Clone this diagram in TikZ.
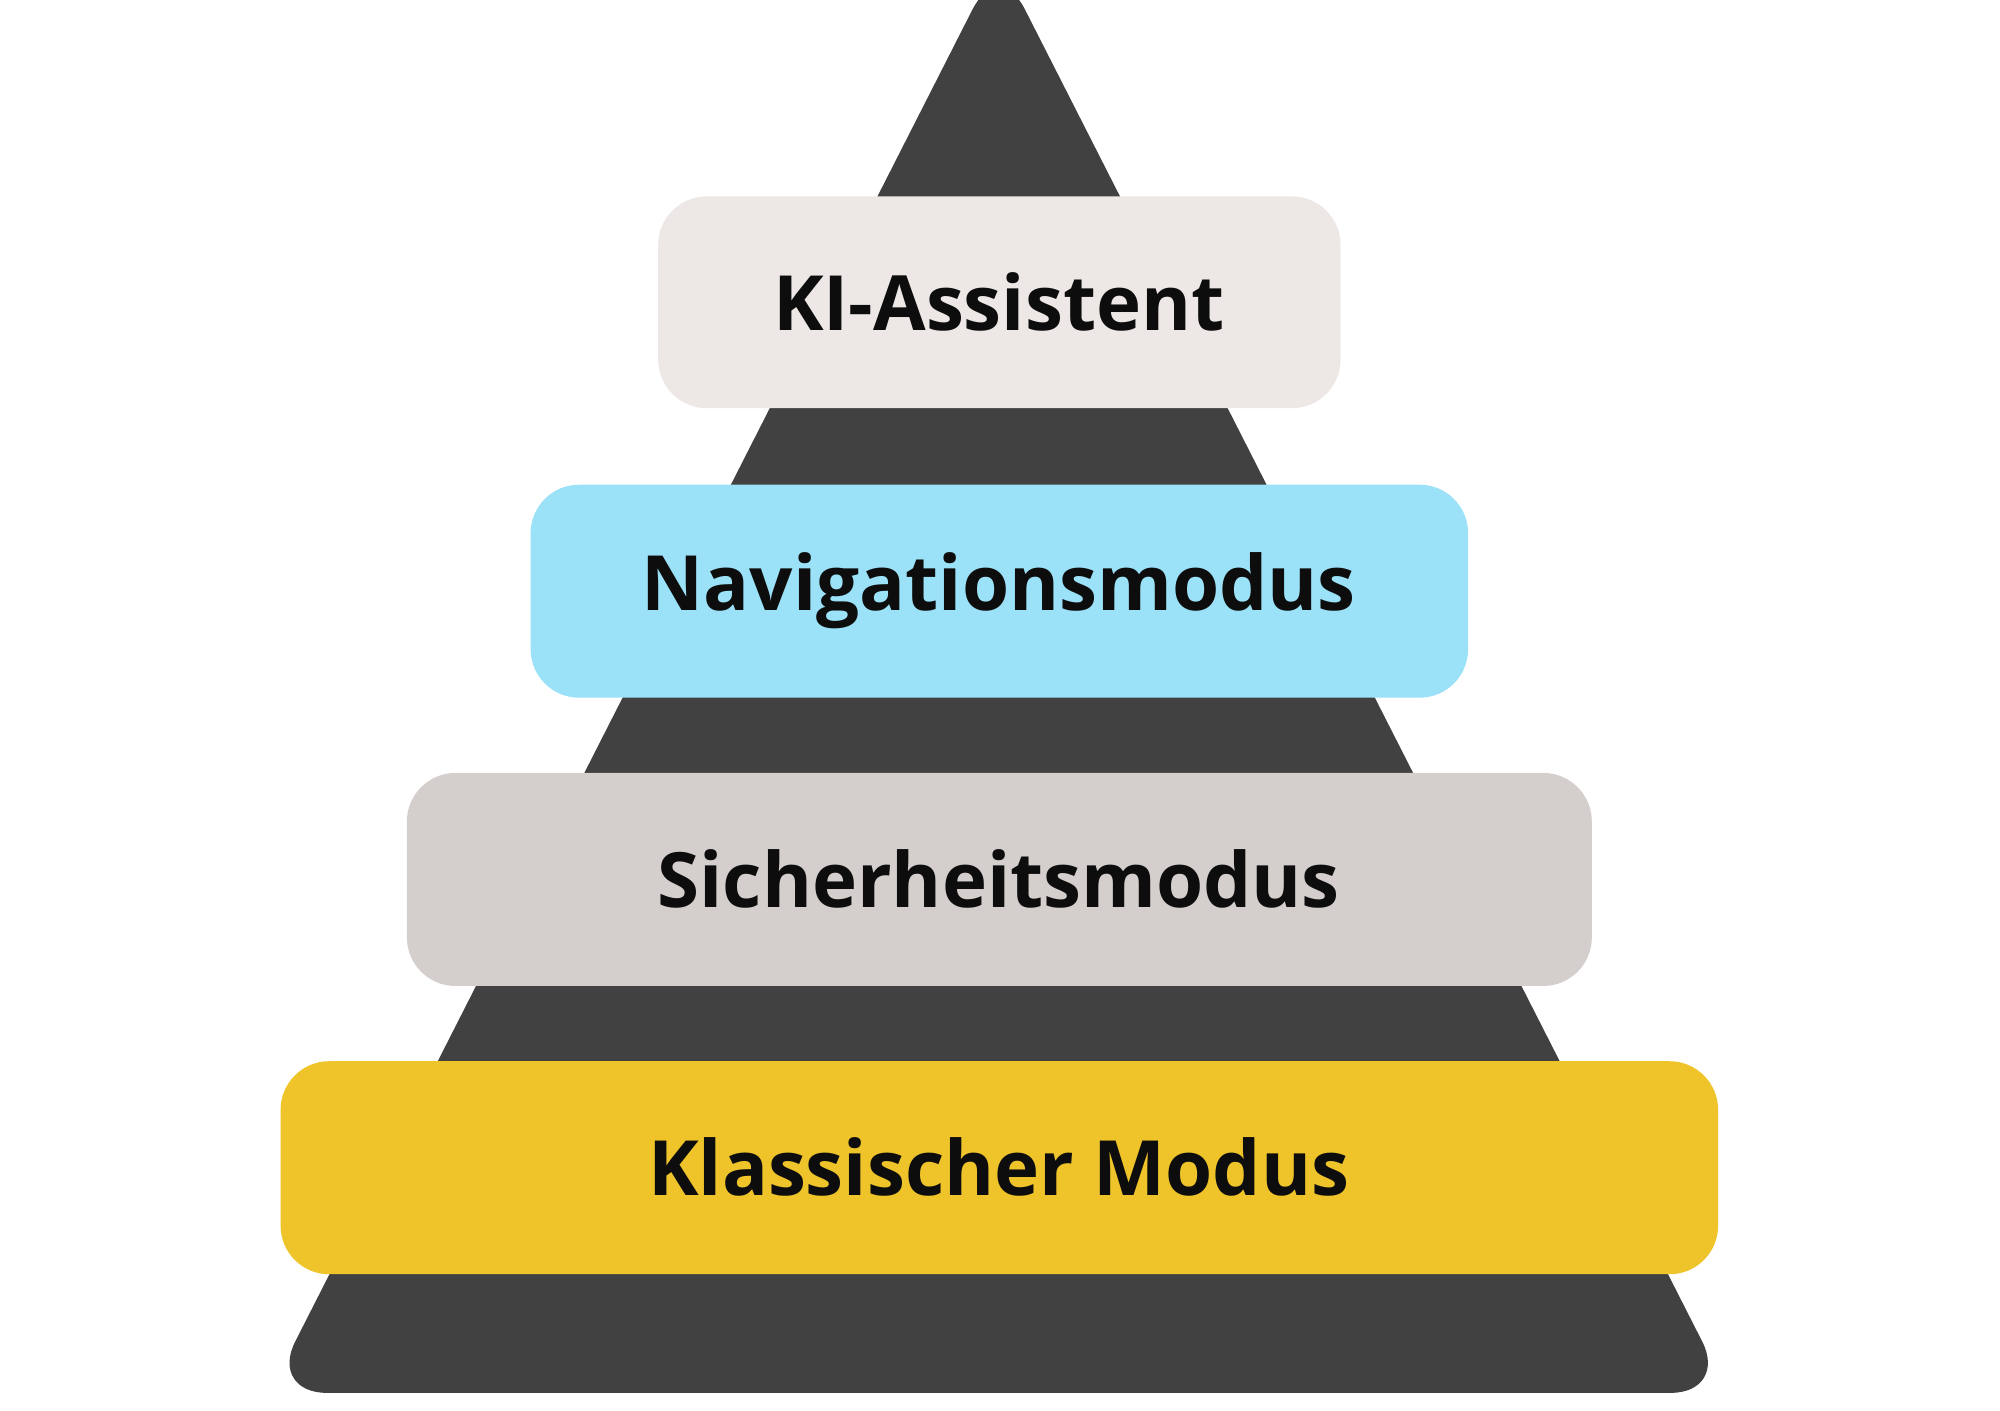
\documentclass[tikz,border=0pt]{standalone}
\usepackage{fontspec}
\setmainfont{Open Sans}
\begin{document}
\begin{tikzpicture}[x=0.01cm,y=-0.01cm,
  box/.style={rounded corners=0.38cm,draw=none},
  lab/.style={font=\fontsize{17}{20}\selectfont\bfseries,text=black!95}]
\useasboundingbox (0,0) rectangle (1568,1106);
\definecolor{tri}{HTML}{414141}
\definecolor{c1}{HTML}{EDE8E6}
\definecolor{c2}{HTML}{9BE1F7}
\definecolor{c3}{HTML}{D4CFCC}
\definecolor{c4}{HTML}{EFC42A}
\fill[tri,rounded corners=0.45cm] (783,-33) -- (1355,1092) -- (211,1092) -- cycle;
\fill[c1,box] (516,154) rectangle (1051,320);
\fill[c2,box] (416,380) rectangle (1151,547);
\fill[c3,box] (319,606) rectangle (1248,773);
\fill[c4,box] (220,832) rectangle (1347,999);
\node[lab] (a) at (783,237) {KI-Assistent};
\node[lab] (b) at (783,463) {Navigationsmodus};
\node[lab] (c) at (783,689) {Sicherheitsmodus};
\node[lab] (d) at (783,915) {Klassischer Modus};
\end{tikzpicture}
\end{document}
